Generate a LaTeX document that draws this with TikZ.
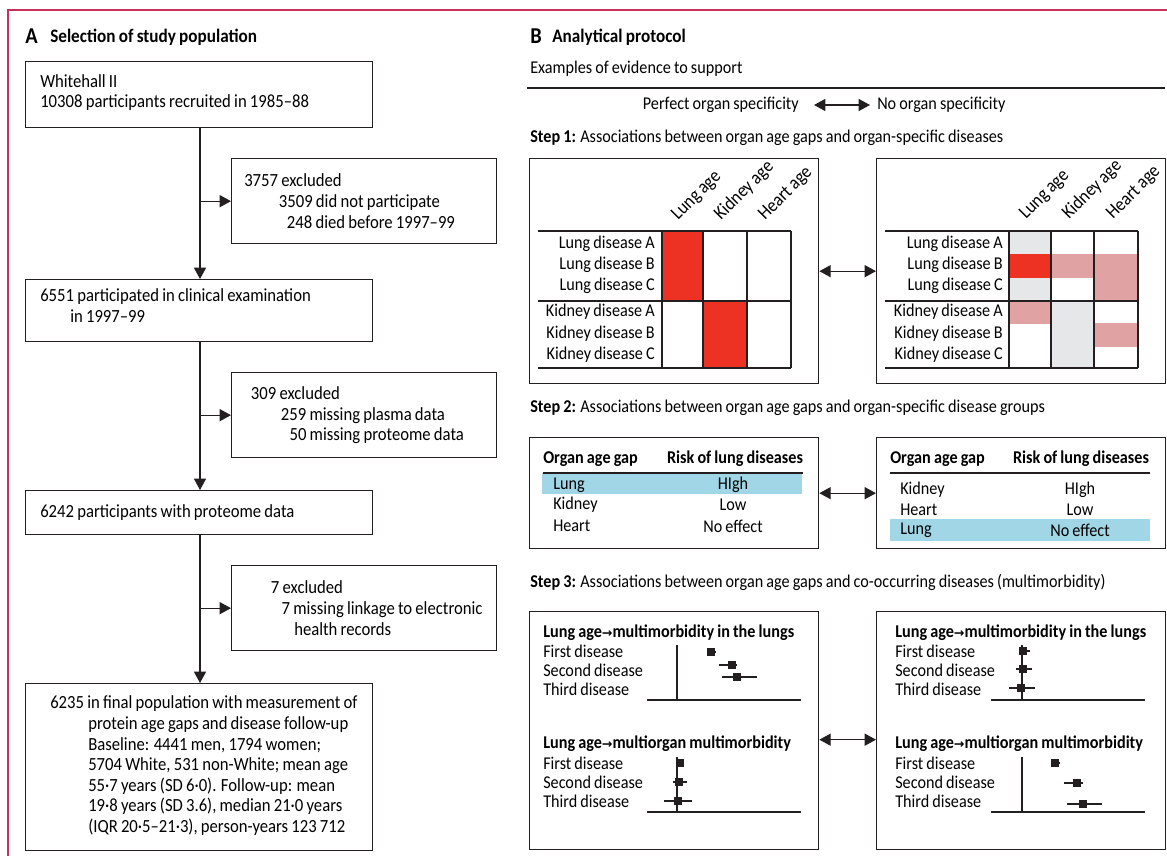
\documentclass[tikz,border=0pt]{standalone}
\usepackage{fontspec}
\setmainfont{Carlito}[FakeStretch=0.9, WordSpace=0.85]
\newfontfamily\arrowfont{DejaVu Sans}
\usetikzlibrary{arrows.meta, positioning, calc}

\definecolor{framered}{RGB}{200,50,90}
\definecolor{ink}{RGB}{35,31,32}
\definecolor{cellred}{RGB}{237,50,36}
\definecolor{cellpink}{RGB}{224,162,162}
\definecolor{cellgray}{RGB}{230,231,233}
\definecolor{rowblue}{RGB}{160,214,230}

\newcommand{\fA}{\fontsize{13.9}{15.45}\selectfont}
\newcommand{\fB}{\fontsize{13.5}{15}\selectfont}
\newcommand{\fT}{\fontsize{14.3}{15}\selectfont\bfseries}
\newcommand{\lto}{{\arrowfont\fontsize{9.5}{9}\selectfont →}}
\newcommand{\hang}{\hspace*{28.5pt}}
\newcommand{\fpt}[4]{\draw[ink, line width=0.9pt] (#3,#2) -- (#4,#2); \fill[ink] (#1-4,#2-4) rectangle (#1+4,#2+4);}

\begin{document}
\begin{tikzpicture}[x=0.75pt, y=-0.75pt,
    box/.style={draw=ink, line width=1pt, anchor=north west, inner sep=0pt},
    abox/.style={box, minimum width=260.25pt},
    xbox/.style={box, minimum width=198.75pt, minimum height=63.75pt},
    bbox/.style={box, minimum width=216.75pt},
    atext/.style={font=\fA, align=left, anchor=west, inner sep=0pt},
    conn/.style={ink, line width=1pt, -{Triangle[length=8.5pt,width=9pt]}},
    dbl/.style={ink, line width=1pt, {Triangle[length=8.5pt,width=9pt]}-{Triangle[length=8.5pt,width=9pt]}},
    grid/.style={ink, line width=0.9pt},
    lbl/.style={font=\fB, inner sep=0pt},
    colhead/.style={font=\fontsize{14.3}{15}\selectfont, inner sep=0pt, rotate=45, anchor=base west},
    ttl/.style={font=\fT, inner sep=0pt, anchor=west}]
    \useasboundingbox (0,0) rectangle (1167,856);
    \draw[framered, line width=1.3pt] (8,856) -- (8,10) -- (1167,10);

    % A: selection of study population
    \node[ttl, font=\fontsize{17}{17}\selectfont\bfseries] (titleA) at (25,36) {A};
    \node[ttl] (titleAtext) at (50,37) {Selection of study population};
    \coordinate (trunk) at (200,0);

    \node[abox, minimum height=49.5pt] (whitehall) at (25,61) {};
    \node[abox, minimum height=46.5pt] (clinical) at (25,279) {};
    \node[abox, minimum height=33pt] (proteome) at (25,490) {};
    \node[abox, minimum height=125.25pt] (final) at (25,683) {};
    \node[xbox] (excl1) at (231,158) {};
    \node[xbox] (excl2) at (231,372) {};
    \node[xbox] (excl3) at (231,565) {};

    \node[atext] (whitehallT) at ([xshift=11.25pt,yshift=1.5pt]whitehall.west) {Whitehall II\\10308 participants recruited in 1985--88};
    \node[atext] (clinicalT) at ([xshift=11.25pt,yshift=3.75pt]clinical.west) {6551 participated in clinical examination\\\hspace*{22.5pt}in 1997--99};
    \node[atext] (proteomeT) at ([xshift=11.25pt]proteome.west) {6242 participants with proteome data};
    \node[atext] (finalT) at ([xshift=18.75pt,yshift=1pt]final.west) {6235 in final population with measurement of\\\hang protein age gaps and disease follow-up\\\hang Baseline: 4441 men, 1794 women;\\\hang 5704 White, 531 non-White; mean age\\\hang 55·7 years (SD 6·0). Follow-up: mean\\\hang 19·8 years (SD 3.6), median 21·0 years\\\hang (IQR 20·5--21·3), person-years 123\,712};
    \node[atext] (excl1T) at ([xshift=9.75pt]excl1.west) {3757 excluded\\\hspace*{26pt}3509 did not participate\\\hspace*{32pt}248 died before 1997--99};
    \node[atext] (excl2T) at ([xshift=9.75pt]excl2.west) {\hspace*{5pt}309 excluded\\\hspace*{27.5pt}259 missing plasma data\\\hspace*{34pt}50 missing proteome data};
    \node[atext] (excl3T) at ([xshift=9.75pt]excl3.west) {\hspace*{20pt}7 excluded\\\hspace*{28pt}7 missing linkage to electronic\\\hspace*{37.5pt}health records};

    \draw[conn] (whitehall.south -| trunk) -- (clinical.north -| trunk);
    \draw[conn] (clinical.south -| trunk) -- (proteome.north -| trunk);
    \draw[conn] (proteome.south -| trunk) -- (final.north -| trunk);
    \draw[conn] (trunk |- excl1.west) -- (excl1.west);
    \draw[conn] (trunk |- excl2.west) -- (excl2.west);
    \draw[conn] (trunk |- excl3.west) -- (excl3.west);

    % B: analytical protocol
    \node[ttl, font=\fontsize{17}{17}\selectfont\bfseries] (titleB) at (530,36) {B};
    \node[ttl] (titleBtext) at (552,37) {Analytical protocol};
    \node[lbl, anchor=west] (examples) at (530,69) {Examples of evidence to support};
    \draw[ink, line width=1pt] (527,88) -- (1165,88);
    \node[lbl, anchor=east] (perfect) at (799,105) {Perfect organ specificity};
    \node[lbl, anchor=west] (noorgan) at (877,105) {No organ specificity};
    \draw[dbl] ($(perfect.east)+(15,0)$) -- ($(noorgan.west)+(-7,0)$);

    % step 1
    \node[lbl, anchor=west] (step1) at (530,138) {\textbf{Step 1:} Associations between organ age gaps and organ-specific diseases};
    \node[bbox, minimum height=168.75pt] (s1left) at (529,158) {};
    \node[bbox, minimum height=168.75pt] (s1right) at (876,158) {};
    \draw[dbl] (s1left.east) -- (s1right.west);

    \fill[cellred] (662,231) rectangle (703,301);
    \fill[cellred] (703,301) rectangle (747,368);
    \foreach \y in {231,301,368} \draw[grid] (538,\y) -- (791,\y);
    \foreach \x in {662,703,747,791} \draw[grid] (\x,231) -- (\x,368);

    \fill[cellgray] (1009,231) rectangle (1051,254);
    \fill[cellgray] (1009,278) rectangle (1051,301);
    \fill[cellgray] (1051,301) rectangle (1094,368);
    \fill[cellred] (1009,254) rectangle (1051,278);
    \fill[cellpink] (1051,254) rectangle (1094,278);
    \fill[cellpink] (1094,254) rectangle (1138,301);
    \fill[cellpink] (1009,301) rectangle (1051,324);
    \fill[cellpink] (1094,323) rectangle (1138,347);
    \foreach \y in {231,301,368} \draw[grid] (885,\y) -- (1138,\y);
    \foreach \x in {1009,1051,1094,1138} \draw[grid] (\x,231) -- (\x,368);

    \foreach \t/\y [count=\i] in {Lung disease A/245, Lung disease B/266, Lung disease C/287, Kidney disease A/313, Kidney disease B/335, Kidney disease C/356} {
        \node[lbl, anchor=mid east] (rowL\i) at (655,\y) {\t};
        \node[lbl, anchor=mid east] (rowR\i) at (1003,\y) {\t};
    }
    \foreach \t/\x [count=\i] in {Lung age/682, Kidney age/725, Heart age/769} {
        \node[colhead] (colL\i) at (\x-4,221) {\t};
        \node[colhead] (colR\i) at (\x+344,220) {\t};
    }

    % step 2
    \node[lbl, anchor=west] (step2) at (530,408) {\textbf{Step 2:} Associations between organ age gaps and organ-specific disease groups};
    \node[bbox, minimum height=83.25pt] (s2left) at (529,437) {};
    \node[bbox, minimum height=83.25pt] (s2right) at (876,437) {};
    \draw[dbl] (s2left.east) -- (s2right.west);

    \fill[rowblue] (542,473) rectangle (802,494);
    \draw[grid] (543,473) -- (803,473);
    \node[lbl, anchor=west, font=\fB\bfseries] (gapL) at (543,459) {Organ age gap};
    \node[lbl, font=\fB\bfseries] (riskL) at (735,459) {Risk of lung diseases};
    \foreach \o/\r/\y [count=\i] in {Lung/HIgh/485, Kidney/Low/505, Heart/No effect/526} {
        \node[lbl, anchor=west] (orgL\i) at (553,\y) {\o};
        \node[lbl] (valL\i) at (733,\y) {\r};
    }

    \fill[rowblue] (890,519) rectangle (1150,541);
    \draw[grid] (890,473) -- (1150,473);
    \node[lbl, anchor=west, font=\fB\bfseries] (gapR) at (890,459) {Organ age gap};
    \node[lbl, font=\fB\bfseries] (riskR) at (1081,459) {Risk of lung diseases};
    \foreach \o/\r/\y [count=\i] in {Kidney/HIgh/490, Heart/Low/510, Lung/No effect/530} {
        \node[lbl, anchor=west] (orgR\i) at (900,\y) {\o};
        \node[lbl] (valR\i) at (1080,\y) {\r};
    }

    % step 3
    \node[lbl, anchor=west] (step3) at (530,582) {\textbf{Step 3:} Associations between organ age gaps and co-occurring diseases (multimorbidity)};
    \node[bbox, minimum height=178.5pt] (s3left) at (529,611) {};
    \node[bbox, minimum height=178.5pt] (s3right) at (876,611) {};
    \draw[dbl] ([yshift=-6.75pt]s3left.east) -- ([yshift=-6.75pt]s3right.west);

    \foreach \x/\s in {543/L, 895/R} {
        \node[lbl, anchor=west, font=\fB\bfseries] (lungs\s) at (\x,633) {Lung age\lto multimorbidity in the lungs};
        \node[lbl, anchor=west, font=\fB\bfseries] (organ\s) at (\x,744) {Lung age\lto multiorgan multimorbidity};
        \foreach \t/\y [count=\i] in {First disease/651, Second disease/670, Third disease/689} {
            \node[lbl, anchor=west] (dA\s\i) at (\x,\y) {\t};
            \node[lbl, anchor=west] (dB\s\i) at (\x,\y+112) {\t};
        }
    }
    \foreach \y in {0,112} {
        \draw[grid] (677,645+\y) -- (677,700+\y);
        \draw[grid] (647,700+\y) -- (801,700+\y);
        \draw[grid] (1022,645+\y) -- (1022,700+\y);
        \draw[grid] (991,700+\y) -- (1145,700+\y);
    }
    \fpt{711}{652}{707}{716}
    \fpt{732}{665}{719}{737}
    \fpt{737}{677}{722}{757}
    \fpt{680}{763}{677}{684}
    \fpt{679}{782}{673}{687}
    \fpt{678}{801}{664}{692}
    \fpt{1023}{651}{1019}{1030}
    \fpt{1023}{669}{1016}{1032}
    \fpt{1021}{688}{1009}{1035}
    \fpt{1055}{763}{1051}{1060}
    \fpt{1077}{783}{1064}{1083}
    \fpt{1083}{804}{1067}{1102}
\end{tikzpicture}
\end{document}
